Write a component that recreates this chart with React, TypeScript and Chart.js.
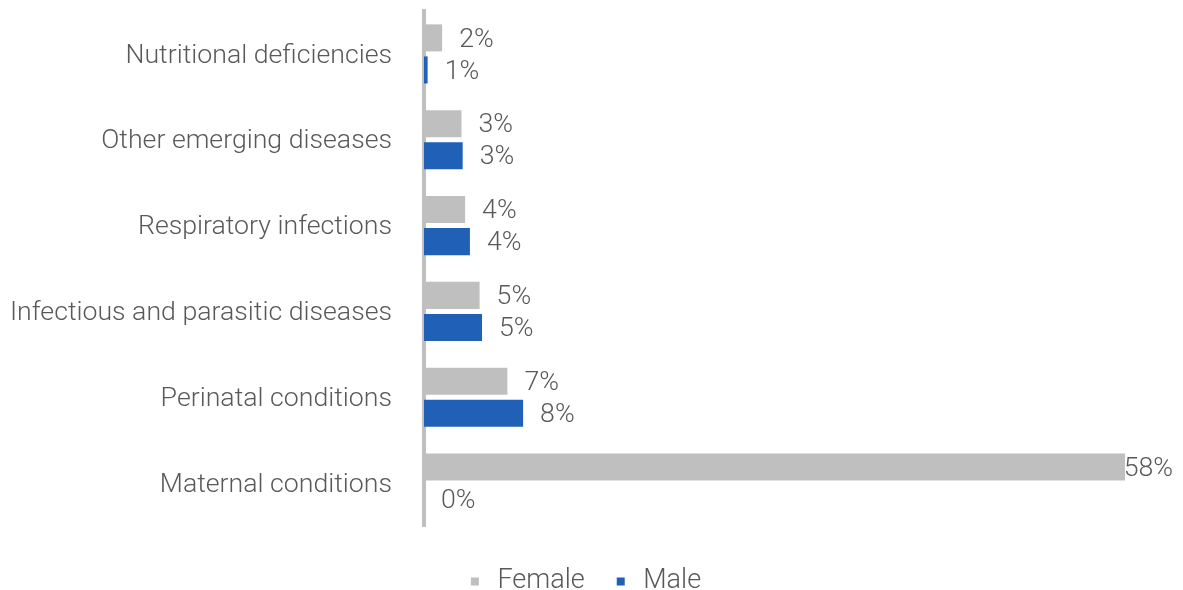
import React, { useEffect, useRef } from "react";
import { Chart, registerables } from "chart.js";

Chart.register(...registerables);

const categories = [
  "Nutritional deficiencies",
  "Other emerging diseases",
  "Respiratory infections",
  "Infectious and parasitic diseases",
  "Perinatal conditions",
  "Maternal conditions",
];
const femaleValues = [1.5, 3.1, 3.4, 4.6, 6.9, 58];
const maleValues = [0.3, 3.2, 3.8, 4.8, 8.2, 0];
const femaleLabels = ["2%", "3%", "4%", "5%", "7%", "58%"];
const maleLabels = ["1%", "3%", "4%", "5%", "8%", "0%"];
const xMax = 58;

const FONT = "Roboto";
const TEXT = "#595959";

const valueLabelPlugin = {
  id: "valueLabels",
  afterDatasetsDraw(chart: any) {
    const ctx = chart.ctx;
    const allLabels = [femaleLabels, maleLabels];
    ctx.save();
    ctx.font = `300 26.7px ${FONT}`;
    ctx.fillStyle = TEXT;
    ctx.textBaseline = "middle";
    ctx.textAlign = "left";
    chart.data.datasets.forEach((_: any, di: number) => {
      const meta = chart.getDatasetMeta(di);
      meta.data.forEach((el: any, i: number) => {
        const txt = allLabels[di][i];
        const w = ctx.measureText(txt).width;
        let x = el.x + 17;
        if (x + w > chart.width - 2) x = chart.width - 2 - w;
        ctx.fillText(txt, x, el.y + 2);
      });
    });
    ctx.restore();
  },
};

const legendShiftPlugin = {
  id: "legendShift",
  afterLayout(chart: any) {
    const lg = chart.legend;
    if (!lg) return;
    lg.top += 15;
    lg.bottom += 15;
    lg.left += 17;
    lg.right += 17;
  },
};

export default function App() {
  const ref = useRef<HTMLCanvasElement | null>(null);
  useEffect(() => {
    if (!ref.current) return;
    const chart = new Chart(ref.current, {
      type: "bar",
      data: {
        labels: categories,
        datasets: [
          {
            label: "Female",
            data: femaleValues,
            backgroundColor: "#BFBFBF",
            borderWidth: 0,
            categoryPercentage: 0.747,
            barPercentage: 0.844,
          },
          {
            label: "Male",
            data: maleValues,
            backgroundColor: "#2160B7",
            borderWidth: 0,
            categoryPercentage: 0.747,
            barPercentage: 0.844,
          },
        ],
      },
      options: {
        indexAxis: "y",
        animation: false,
        responsive: true,
        maintainAspectRatio: false,
        layout: { padding: { top: 3, right: 50, left: 0, bottom: 0 } },
        scales: {
          x: { display: false, min: 0, max: xMax },
          y: {
            grid: { display: false, drawTicks: false },
            border: { display: true, color: "#BFBFBF", width: 4 },
            ticks: {
              color: TEXT,
              padding: 32,
              labelOffset: 2,
              font: { family: FONT, size: 26.7, weight: "300" as any },
            },
            afterFit: (s: any) => {
              s.width = 416;
              s.paddingTop = 0;
              s.paddingBottom = 0;
            },
          },
        },
        plugins: {
          legend: {
            position: "bottom",
            labels: {
              usePointStyle: true,
              pointStyle: "rect",
              boxWidth: 18,
              boxHeight: 8,
              padding: 27,
              color: TEXT,
              font: { family: FONT, size: 27, weight: "300" as any },
            },
          },
          tooltip: { enabled: false },
        },
      },
      plugins: [valueLabelPlugin, legendShiftPlugin],
    });
    return () => chart.destroy();
  }, []);
  return (
    <div style={{ position: "relative", width: "1167px", height: "582px" }}>
      <canvas ref={ref} />
    </div>
  );
}
